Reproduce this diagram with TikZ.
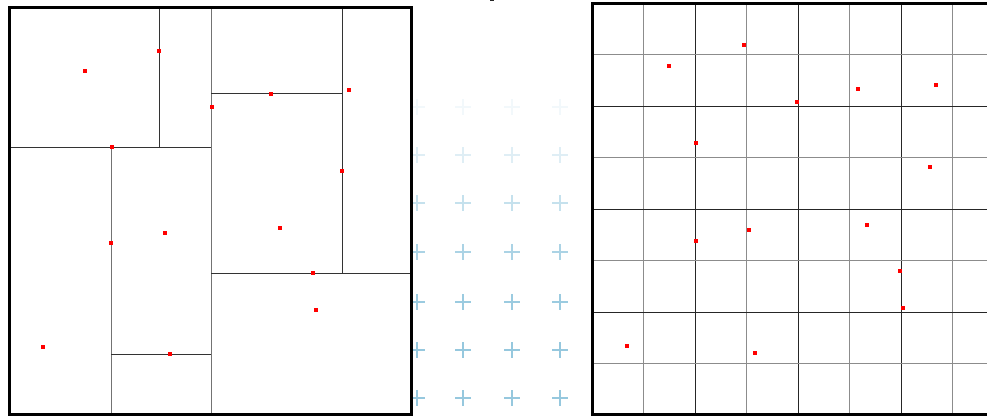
\documentclass[tikz,border=0pt]{standalone}
\begin{document}
\begin{tikzpicture}[x=1pt,y=-1pt,
  frame/.style={line width=3pt,draw=black},
  split/.style={line width=1pt,draw=black!80},
  splitlight/.style={line width=1pt,draw=black!55},
  gdark/.style={line width=1pt,draw=black!85},
  glight/.style={line width=1.3pt,draw=black!45},
  pt/.style={fill=red,inner sep=0pt,minimum size=4.5pt,draw=none,rectangle},
  cross/.style={line width=1.8pt,draw=crossblue,line cap=butt}]
\definecolor{crossblue}{RGB}{150,200,222}
\useasboundingbox (0,0) rectangle (987,417);
% middle faint crosses
\foreach \y/\op in {107/0.12,155/0.3,203/0.55,252/0.8,302/0.95,350/1,398/1}{
  \foreach \x in {417,463,512,560}{
    \draw[cross,opacity=\op] (\x-8,\y) -- (\x+8,\y) (\x,\y-8) -- (\x,\y+8);
  }
}
% left panel
\fill[white] (9.5,8) rectangle (411.5,414.5);
\draw[split] (9.5,147) -- (211,147);
\draw[split] (159,8) -- (159,147);
\draw[splitlight] (211,8) -- (211,414.5);
\draw[splitlight] (111,147) -- (111,414.5);
\draw[split] (111,354) -- (211,354);
\draw[split] (211,94) -- (342,94);
\draw[split] (342,8) -- (342,273);
\draw[split] (211,273) -- (411.5,273);
\draw[frame] (9.5,8) rectangle (411.5,414.5);
\foreach \n/\x/\y in {a/85/71,b/159/51,c/212/107,d/271/94,e/349/90,f/112/147,g/342/171,h/165/233,i/280/228,j/111/243,k/313/273,l/316/310,m/43/347,n/170/354}{
  \node[pt] (L\n) at (\x,\y) {};
}
% right panel
\begin{scope}
\clip (589,0) rectangle (987,417);
\fill[white] (592,3.3) rectangle (1004,414.7);
\foreach \x/\s in {643.5/glight,695/gdark,746.5/glight,798/gdark,849.5/glight,901/gdark,952.5/glight}{
  \draw[\s] (\x,3.3) -- (\x,414.7);
}
\foreach \y/\s in {54.8/glight,106.3/gdark,157.7/glight,209.2/gdark,260.7/glight,312.2/gdark,363.7/glight}{
  \draw[\s] (592,\y) -- (1004,\y);
}
\draw[frame] (592,3.3) rectangle (1004,414.7);
\end{scope}
\foreach \n/\x/\y in {a/744/45,b/669/66,c/797/102,d/858/89,e/936/85,f/696/143,g/930/167,h/696/241,i/749/230,j/867/225,k/900/271,l/903/308,m/627/346,n/755/353}{
  \node[pt] (R\n) at (\x,\y) {};
}
\fill[black!85] (490,0) rectangle (494,1.5);
\end{tikzpicture}
\end{document}
